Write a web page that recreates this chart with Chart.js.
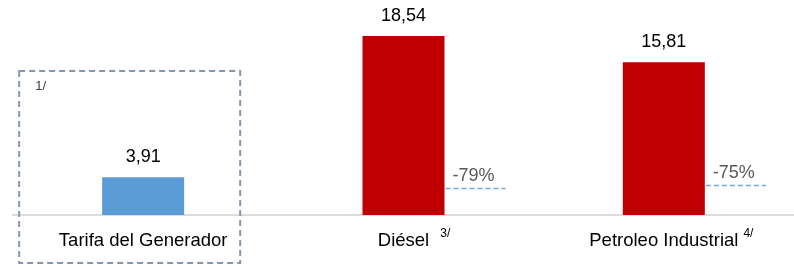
<!DOCTYPE html>
<html>
<head>
<meta charset="utf-8">
<script src="https://cdn.jsdelivr.net/npm/chart.js@4"></script>
<style>
html,body{margin:0;padding:0;background:#fff;}
#wrap{width:794px;height:266px;}
</style>
</head>
<body>
<div id="wrap"><canvas id="c" width="794" height="266"></canvas></div>
<script>
const categories = ['Tarifa del Generador', 'Diésel', 'Petroleo Industrial'];
const values = [3.91, 18.54, 15.81];
const valueLabels = ['3,91', '18,54', '15,81'];
const footnotes = ['', '3/', '4/'];
const boxNote = '1/';
const pctLabels = ['', '-79%', '-75%'];
const refLevels = [null, 2.8, 3.08];
const barColors = ['#5B9BD5', '#C00000', '#C00000'];

const FONT = "'Liberation Sans', Arial, sans-serif";
const FOOT_GAP = [0, 11, 5];

const annot = {
  id: 'annot',
  afterDatasetsDraw(chart) {
    const ctx = chart.ctx;
    const xs = chart.scales.x, ys = chart.scales.y;
    const meta = chart.getDatasetMeta(0);
    ctx.save();
    // value labels
    ctx.font = '18px ' + FONT;
    ctx.fillStyle = '#000';
    ctx.textAlign = 'center';
    ctx.textBaseline = 'middle';
    meta.data.forEach((bar, i) => {
      ctx.fillText(valueLabels[i], bar.x, bar.y - 20);
    });
    // reference dashed lines + percentages
    meta.data.forEach((bar, i) => {
      if (refLevels[i] == null) return;
      const right = bar.x + bar.width / 2;
      const y = Math.round(ys.getPixelForValue(refLevels[i])) + 0.5;
      ctx.strokeStyle = '#6FA8DC';
      ctx.lineWidth = 1.5;
      ctx.setLineDash([5, 3]);
      ctx.beginPath();
      ctx.moveTo(right + 1, y);
      ctx.lineTo(right + 61, y);
      ctx.stroke();
      ctx.setLineDash([]);
      ctx.font = '18px ' + FONT;
      ctx.fillStyle = '#595959';
      ctx.textAlign = 'left';
      ctx.textBaseline = 'alphabetic';
      ctx.fillText(pctLabels[i], right + 8, y - 8);
    });
    // dashed box around first category
    const c0 = xs.getPixelForValue(0);
    ctx.strokeStyle = '#8497B0';
    ctx.lineWidth = 2;
    ctx.setLineDash([6, 4]);
    ctx.strokeRect(c0 - 124, 71, 221, 192);
    ctx.setLineDash([]);
    ctx.font = '13px ' + FONT;
    ctx.fillStyle = '#404040';
    ctx.textAlign = 'left';
    ctx.textBaseline = 'middle';
    ctx.fillText(boxNote, c0 - 108, 86);
    // footnote superscripts on category labels
    footnotes.forEach((f, i) => {
      if (!f) return;
      ctx.font = '18.5px ' + FONT;
      const w = ctx.measureText(categories[i]).width;
      const cx = xs.getPixelForValue(i);
      ctx.font = '12px ' + FONT;
      ctx.fillStyle = '#000';
      ctx.textAlign = 'left';
      ctx.textBaseline = 'middle';
      ctx.fillText(f, cx + w / 2 + FOOT_GAP[i], 234);
    });
    ctx.restore();
  }
};

new Chart(document.getElementById('c'), {
  type: 'bar',
  data: {
    labels: categories,
    datasets: [{
      data: values,
      backgroundColor: barColors,
      barPercentage: 0.315,
      categoryPercentage: 1
    }]
  },
  options: {
    responsive: false,
    animation: false,
    devicePixelRatio: 1,
    layout: { padding: { left: 13, right: 0, top: 0, bottom: 0 } },
    plugins: { legend: { display: false }, tooltip: { enabled: false } },
    scales: {
      x: {
        grid: { display: false, drawTicks: false },
        border: { display: true, color: '#DCDCDC', width: 2 },
        ticks: { color: '#000', font: { family: FONT, size: 18.5 }, padding: 15, maxRotation: 0, autoSkip: false },
        afterFit(s) { s.height = 51; }
      },
      y: {
        display: false,
        min: 0,
        max: 22.27
      }
    }
  },
  plugins: [annot]
});
</script>
</body>
</html>
